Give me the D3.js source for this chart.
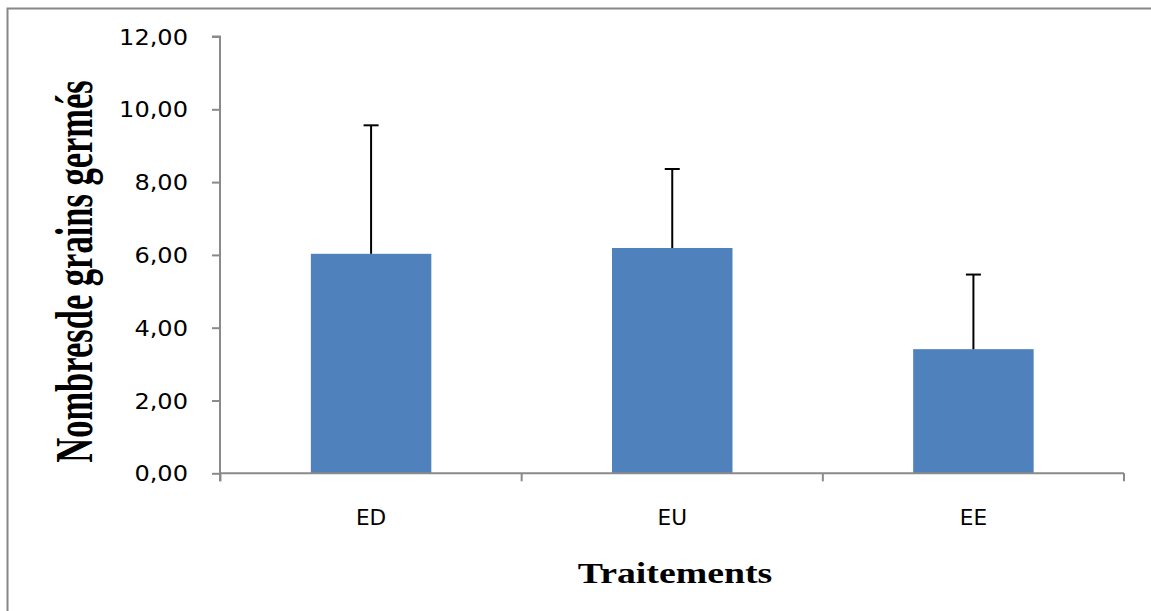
<!DOCTYPE html>
<html>
<head>
<meta charset="utf-8">
<script src="https://cdn.jsdelivr.net/npm/d3@7"></script>
<style>
  html, body { margin: 0; padding: 0; background: #fff; }
  svg { display: block; }
</style>
</head>
<body>
<svg id="chart" width="1151" height="611"></svg>
<script>
const categories = ["ED", "EU", "EE"];
const values = [6.03, 6.19, 3.41];
const errors = [3.53, 2.17, 2.05];
const yTicks = [0, 2, 4, 6, 8, 10, 12];
const yTickLabels = ["0,00", "2,00", "4,00", "6,00", "8,00", "10,00", "12,00"];
const xTitle = "Traitements";
const yTitle = "Nombresde grains germés";

const svg = d3.select("#chart");
const axisColor = "#8a8a8a";
const barColor = "#4f81bd";

// outer frame
svg.append("rect")
  .attr("x", 7.5).attr("y", 8.5)
  .attr("width", 1160).attr("height", 620)
  .attr("fill", "none").attr("stroke", "#878787").attr("stroke-width", 2);

const x = d3.scaleBand().domain(categories).range([220.5, 1124]).paddingInner(0.6).paddingOuter(0.3);
const y = d3.scaleLinear().domain([0, 12]).range([473.3, 36.5]);

// bars
svg.append("g").selectAll("rect").data(categories).join("rect")
  .attr("x", d => x(d))
  .attr("width", x.bandwidth())
  .attr("y", (d, i) => y(values[i]))
  .attr("height", (d, i) => y(0) - y(values[i]))
  .attr("fill", barColor);

// error bars (plus only)
const eg = svg.append("g").attr("stroke", "#000").attr("stroke-width", 2);
categories.forEach((c, i) => {
  const cx = x(c) + x.bandwidth() / 2;
  eg.append("line").attr("x1", cx).attr("x2", cx)
    .attr("y1", y(values[i])).attr("y2", y(values[i] + errors[i]));
  eg.append("line").attr("x1", cx - 7.5).attr("x2", cx + 7.5)
    .attr("y1", y(values[i] + errors[i])).attr("y2", y(values[i] + errors[i]));
});

// y axis
const yAxis = d3.axisLeft(y).tickValues(yTicks).tickSize(8).tickPadding(0)
  .tickFormat((d, i) => yTickLabels[i]);
const gy = svg.append("g").attr("transform", "translate(220,0)").call(yAxis);
gy.select(".domain").attr("stroke", axisColor).attr("stroke-width", 2)
  .attr("d", `M-8,${y(12)}H0V${y(0) + 8}`);
gy.selectAll(".tick line").attr("stroke", axisColor).attr("stroke-width", 2);
gy.selectAll(".tick text")
  .attr("x", 0).attr("dy", null)
  .attr("dominant-baseline", "central")
  .attr("text-anchor", "end")
  .attr("font-family", "DejaVu Sans, Verdana, sans-serif")
  .attr("font-size", 21.5)
  .attr("fill", "#000")
  .attr("transform", "translate(-32,0) scale(1.12,1)");

// x axis
const xAxis = d3.axisBottom(x).tickSize(0).tickPadding(0);
const gx = svg.append("g").attr("transform", `translate(0,${y(0)})`).call(xAxis);
gx.select(".domain").attr("stroke", axisColor).attr("stroke-width", 2)
  .attr("d", `M220.5,0H1124`);
gx.selectAll(".tick text").remove();
gx.selectAll(".tick line").remove();
const step = x.step();
const x0 = 220.5;
[0, 1, 2, 3].forEach(k => {
  gx.append("line").attr("x1", x0 + k * step).attr("x2", x0 + k * step)
    .attr("y1", 0).attr("y2", 8).attr("stroke", axisColor).attr("stroke-width", 2);
});
categories.forEach(c => {
  const cx = x(c) + x.bandwidth() / 2;
  gx.append("text")
    .attr("transform", `translate(${cx},51.5) scale(1.03,1)`)
    .attr("text-anchor", "middle")
    .attr("font-family", "DejaVu Sans, Verdana, sans-serif")
    .attr("font-size", 21)
    .attr("fill", "#000")
    .text(c);
});

// x title
svg.append("text")
  .attr("transform", "translate(675,583) scale(1.26,1)")
  .attr("text-anchor", "middle")
  .attr("font-family", "Liberation Serif, Times New Roman, serif")
  .attr("font-weight", "bold")
  .attr("font-size", 30)
  .attr("fill", "#000")
  .text(xTitle);

// y title
svg.append("text")
  .attr("transform", "translate(92,271.5) scale(1.5,1) rotate(-90)")
  .attr("text-anchor", "middle")
  .attr("font-family", "Liberation Serif, Times New Roman, serif")
  .attr("font-weight", "bold")
  .attr("font-size", 34.5)
  .attr("fill", "#000")
  .text(yTitle);
</script>
</body>
</html>
